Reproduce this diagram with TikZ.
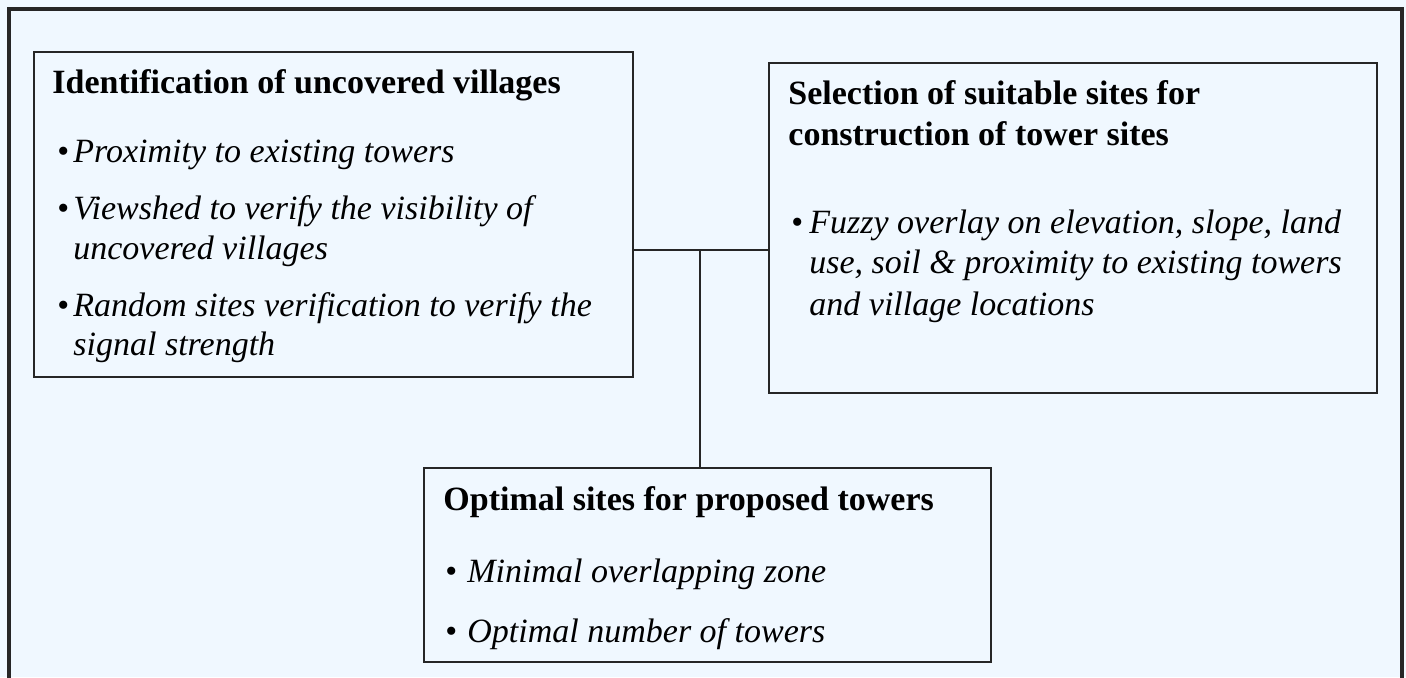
\documentclass[tikz,border=0pt]{standalone}
\usepackage{fontspec}
\setmainfont{Liberation Serif}
\usetikzlibrary{fit}
\definecolor{bgblue}{RGB}{240,248,255}
\definecolor{linegray}{RGB}{38,38,38}
\tikzset{
  box/.style={draw=linegray, line width=1pt, inner sep=0pt},
  frame/.style={draw=linegray, line width=1.6pt},
  conn/.style={draw=linegray, line width=1.1pt},
  ttl/.style={anchor=base west, inner sep=0pt, font=\fontsize{17}{20}\selectfont\bfseries},
  itm/.style={anchor=base west, inner sep=0pt, font=\fontsize{17}{20}\selectfont\itshape},
  bul/.style={anchor=base west, inner sep=0pt, font=\fontsize{17}{20}\selectfont}
}
\begin{document}
\begin{tikzpicture}[x=0.5pt,y=-0.5pt]
\useasboundingbox (0,0) rectangle (1406,677);
\fill[bgblue] (0,0) rectangle (1406,677);
\draw[frame] (9,690) -- (9,9) -- (1402,9) -- (1402,690);

% boxes
\node[box, fit={(34,52) (633,377)}] (L) {};
\node[box, fit={(769,63) (1377,393)}] (R) {};
\node[box, fit={(424,468) (991,662)}] (B) {};

% connectors
\coordinate (j) at (700,250);
\draw[conn] (L.east |- j) -- (R.west |- j);
\draw[conn] (j) -- (j |- B.north);

% left box text
\node[ttl] (lt) at (52,93) {Identification of uncovered villages};
\node[bul] (lb1) at (57,162) {•};
\node[itm] (l1) at (73,162) {Proximity to existing towers};
\node[bul] (lb2) at (57,219) {•};
\node[itm] (l2a) at (73,219) {Viewshed to verify the visibility of};
\node[itm] (l2b) at (73,259) {uncovered villages};
\node[bul] (lb3) at (57,316) {•};
\node[itm] (l3a) at (73,316) {Random sites verification to verify the};
\node[itm] (l3b) at (73,355) {signal strength};

% right box text
\node[ttl] (rt1) at (788,104) {Selection of suitable sites for};
\node[ttl] (rt2) at (788,145) {construction of tower sites};
\node[bul] (rb1) at (791,233) {•};
\node[itm] (r1a) at (809,233) {Fuzzy overlay on elevation, slope, land};
\node[itm] (r1b) at (809,273) {use, soil \& proximity to existing towers};
\node[itm] (r1c) at (809,315) {and village locations};

% bottom box text
\node[ttl] (bt) at (443,510) {Optimal sites for proposed towers};
\node[bul] (bb1) at (445,582) {•};
\node[itm] (b1) at (467,582) {Minimal overlapping zone};
\node[bul] (bb2) at (445,642) {•};
\node[itm] (b2) at (467,642) {Optimal number of towers};
\end{tikzpicture}
\end{document}
